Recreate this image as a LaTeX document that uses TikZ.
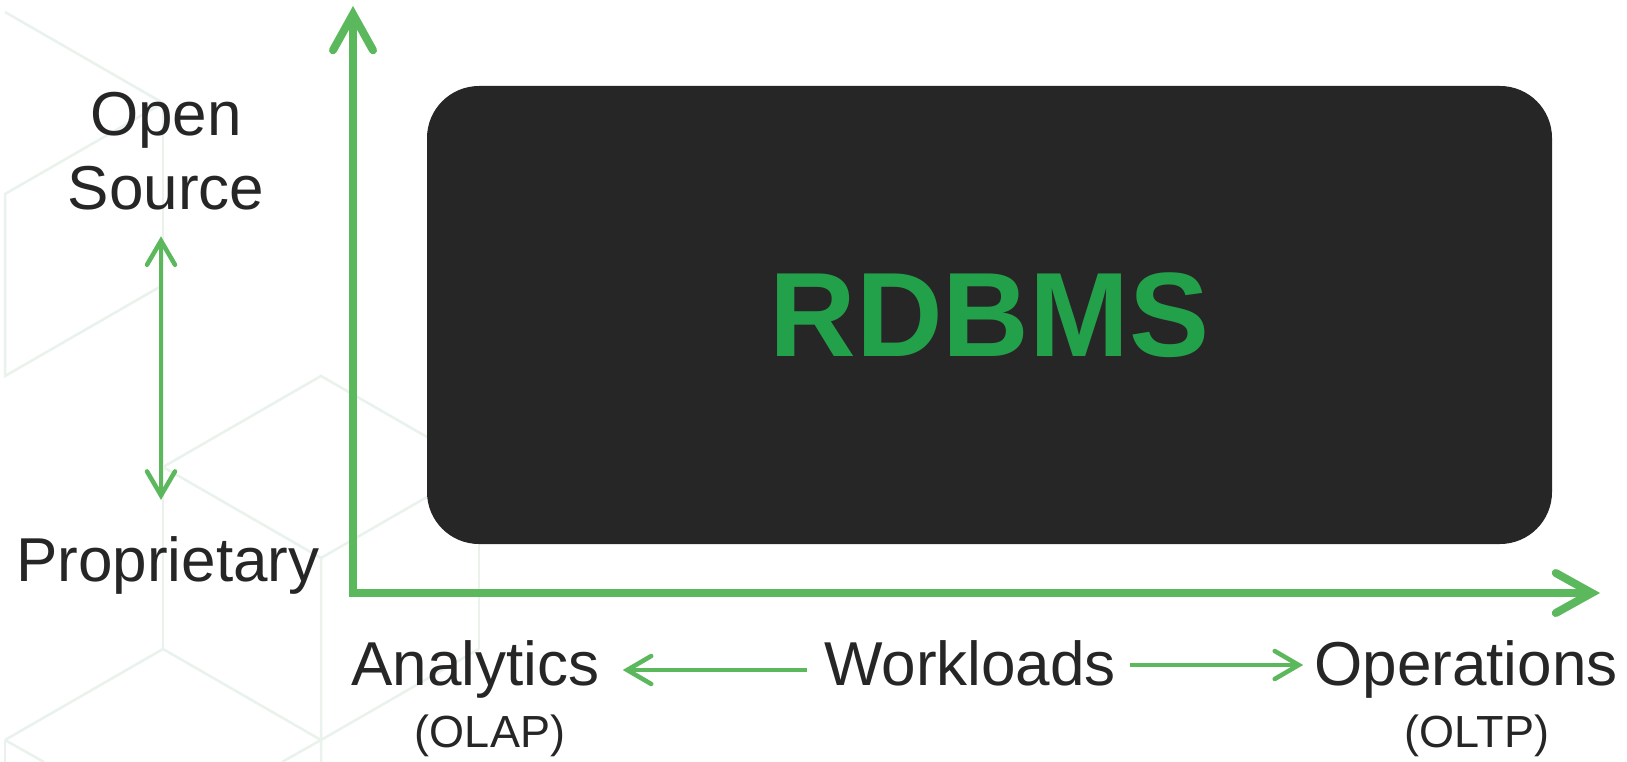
\documentclass[tikz,border=0pt]{standalone}
\usepackage{fontspec}
\setmainfont{Liberation Sans}
\usetikzlibrary{arrows.meta,calc}
\definecolor{axisgreen}{HTML}{5CB85C}
\definecolor{titlegreen}{HTML}{23A04A}
\definecolor{darkbox}{HTML}{262626}
\definecolor{ink}{HTML}{262626}
\definecolor{hexline}{HTML}{E9F2EB}
\tikzset{
  bigtip/.tip={Straight Barb[length=36pt,width=40pt,line cap=round,line join=miter]},
  smalltip/.tip={Straight Barb[length=24pt,width=28pt,line cap=round,line join=miter]},
  axisline/.style={draw=axisgreen,line width=8pt,line join=miter},
  smallarrow/.style={draw=axisgreen,line width=4.5pt},
  label/.style={inner sep=0pt,text=ink,font=\fontsize{62}{74}\selectfont},
  sublabel/.style={inner sep=0pt,text=ink,font=\fontsize{45}{54}\selectfont},
  hex/.style={draw=hexline,line width=2.5pt},
  mainbox/.style={fill=darkbox,draw=none,rounded corners=52pt,minimum width=1125pt,minimum height=458pt,inner sep=0pt,text=titlegreen,font=\fontsize{120}{140}\selectfont\bfseries}
}
\begin{document}
\begin{tikzpicture}[x=1pt,y=-1pt]
\useasboundingbox[fill=white] (0,0) rectangle (1627,762);
% faint background cube pattern
\draw[hex] (5,12) -- (163,103) -- (5,194) -- (5,376) -- (163,285);
\draw[hex] (163,103) -- (163,649);
\draw[hex] (163,467) -- (321,376) -- (427,437);
\draw[hex] (163,467) -- (321,558) -- (321,762);
\draw[hex] (321,558) -- (427,497);
\draw[hex] (5,740) -- (163,649) -- (321,740) -- (479,649);
\draw[hex] (479,467) -- (479,649);
\draw[hex] (5,740) -- (5,762);
\draw[hex] (5,740) -- (44,762);
\draw[hex] (321,740) -- (282,762);
% main box
\node[mainbox] (box) at (989.5,315) {RDBMS};
% axes
\coordinate (ytip) at (353,6);
\coordinate (corner) at (353,593);
\coordinate (xtip) at (1600,593);
\draw[axisline,{bigtip}-{bigtip}] (ytip) -- (corner) -- (xtip);
% left labels
\node[label,align=center,anchor=north] (open) at (166,92) {Open\\Source};
\node[label,anchor=base] (prop) at (168,581) {Proprietary};
\draw[smallarrow,{smalltip}-{smalltip}] ($(open.south)+(-5,26)$) -- ($(prop.north)+(-7,-36)$);
% bottom labels
\node[label,anchor=base] (ana) at (475.5,685) {Analytics};
\node[sublabel,anchor=base] (olap) at (490,747) {(OLAP)};
\node[label,anchor=base] (work) at (970,685) {Workloads};
\node[label,anchor=base] (oper) at (1466,685) {Operations};
\node[sublabel,anchor=base] (oltp) at (1477,747) {(OLTP)};
\draw[smallarrow,-{smalltip}] ($(work.base west)+(-17,-15)$) -- ($(ana.base east)+(23,-15)$);
\draw[smallarrow,-{smalltip}] ($(work.base east)+(14,-20)$) -- ($(oper.base west)+(-11,-20)$);
\end{tikzpicture}
\end{document}
